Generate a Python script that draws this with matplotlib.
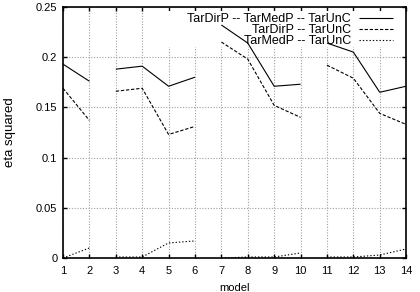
import numpy as np
import matplotlib
matplotlib.use("Agg")
import matplotlib.pyplot as plt
from matplotlib.ticker import FuncFormatter
from matplotlib.patches import Rectangle

plt.rcParams['font.family'] = ['Liberation Sans', 'DejaVu Sans']
plt.rcParams['font.size'] = 8

models = np.arange(1, 15)
# lines are broken between these groups of models
groups = [[1, 2], [3, 4, 5, 6], [7, 8, 9, 10], [11, 12, 13, 14]]

dir_med_unc = [0.193, 0.176, 0.188, 0.191, 0.171, 0.180, 0.232,
               0.214, 0.171, 0.173, 0.214, 0.205, 0.165, 0.171]
dir_unc = [0.169, 0.137, 0.166, 0.169, 0.123, 0.131, 0.215,
           0.198, 0.152, 0.140, 0.192, 0.179, 0.144, 0.133]
med_unc = [0.000, 0.010, 0.001, 0.001, 0.015, 0.017, 0.000,
           0.001, 0.001, 0.005, 0.001, 0.001, 0.003, 0.009]

labels = ["TarDirP -- TarMedP -- TarUnC", "TarDirP -- TarUnC", "TarMedP -- TarUnC"]
styles = [(0, ()), (0, (3, 1.6)), (0, (1.2, 1.8))]
yticks = [0, 0.05, 0.1, 0.15, 0.2, 0.25]

fig = plt.figure(figsize=(4.2, 2.92), dpi=100)
ax = fig.add_axes([0.150, 0.1164, 0.817, 0.860])

for vals, lab, ls in zip([dir_med_unc, dir_unc, med_unc], labels, styles):
    vals = np.array(vals)
    for i, g in enumerate(groups):
        idx = np.array(g) - 1
        ax.plot(models[idx], vals[idx], color='black', lw=0.8, linestyle=ls,
                label=lab if i == 0 else None, zorder=2)

ax.set_xlim(1, 14)
ax.set_ylim(0, 0.25)
ax.set_xticks(models)
ax.set_yticks(yticks)
ax.yaxis.set_major_formatter(FuncFormatter(lambda v, p: "%g" % v))
ax.set_axisbelow(True)
ax.grid(True, color='#a0a0a0', linestyle=(0, (1, 1.5)), lw=0.8)
ax.tick_params(direction='in', top=True, right=True, length=3, width=1,
               labelsize=8, pad=4)
ax.tick_params(axis='x', pad=6)
for s in ax.spines.values():
    s.set_linewidth(1.2)

ax.set_xlabel("model", labelpad=5)
ax.set_ylabel("eta squared", fontsize=9.5, labelpad=14)

# white key area hides the grid (but not the top ticks)
key_bg = Rectangle((0.255, 0.84), 0.745, 0.143, transform=ax.transAxes,
                   facecolor='white', edgecolor='none', zorder=1)
ax.add_patch(key_bg)

leg = ax.legend(loc='upper right', bbox_to_anchor=(0.962, 0.976),
                markerfirst=False, frameon=False, handlelength=2.7,
                handletextpad=0.65, labelspacing=-0.08, borderpad=0,
                borderaxespad=0, fontsize=9)
leg.set_zorder(1.5)

fig.savefig("out.png", dpi=100)
